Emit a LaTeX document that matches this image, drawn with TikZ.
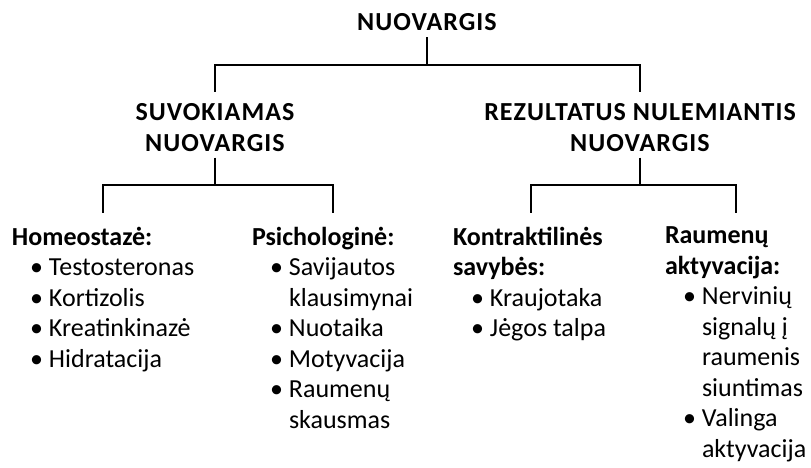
\documentclass[tikz,border=0pt]{standalone}
\usepackage{fontspec}
\setmainfont{Carlito}
\usepackage{tikz}
\usetikzlibrary{positioning}

\newcommand{\bulitem}{\hspace*{18pt}\makebox[19pt][l]{•}}
\newcommand{\bulcont}{\hspace*{37pt}}

\begin{document}
\begin{tikzpicture}[x=1pt, y=-1pt, line width=2pt,
head node/.style={font=\fontsize{26}{31}\selectfont\bfseries\addfontfeature{LetterSpace=4},
  align=center, inner sep=0pt, outer ysep=6pt},
leaf node/.style={font=\fontsize{26}{30.5}\selectfont, align=left, inner sep=0pt, anchor=north west}]

\useasboundingbox (0,0) rectangle (811,468);

\node[head node] (top) at (427,22.5) {NUOVARGIS};
\node[head node] (suv) at (215,127.5) {SUVOKIAMAS\\NUOVARGIS};
\node[head node] (rez) at (640,127.5) {REZULTATUS NULEMIANTIS\\NUOVARGIS};

\node[leaf node] (homeo) at (11,226) {\textbf{Homeostazė:}\\
  \bulitem Testosteronas\\ \bulitem Kortizolis\\ \bulitem Kreatinkinazė\\ \bulitem Hidratacija};
\node[leaf node] (psich) at (251,226) {\textbf{Psichologinė:}\\
  \bulitem Savijautos\\ \bulcont klausimynai\\ \bulitem Nuotaika\\ \bulitem Motyvacija\\
  \bulitem Raumenų\\ \bulcont skausmas};
\node[leaf node] (kontr) at (452,226) {\textbf{Kontraktilinės}\\ \textbf{savybės:}\\
  \bulitem Kraujotaka\\ \bulitem Jėgos talpa};
\node[leaf node] (aktyv) at (664,226) {\textbf{Raumenų}\\ \textbf{aktyvacija:}\\
  \bulitem Nervinių\\ \bulcont signalų į\\ \bulcont raumenis\\ \bulcont siuntimas\\
  \bulitem Valinga\\ \bulcont aktyvacija};

\coordinate (bar0) at (427,65);
\coordinate (bar1) at (215,185);
\coordinate (bar2) at (640,185);

\draw (top.south) -- (bar0) -| ([yshift=5pt]suv.north);
\draw (bar0) -| ([yshift=5pt]rez.north);
\draw (suv.south) -- (bar1) -| (103,213);
\draw (bar1) -| (333,213);
\draw (rez.south) -- (bar2) -| (531,213);
\draw (bar2) -| (736,213);
\end{tikzpicture}
\end{document}
